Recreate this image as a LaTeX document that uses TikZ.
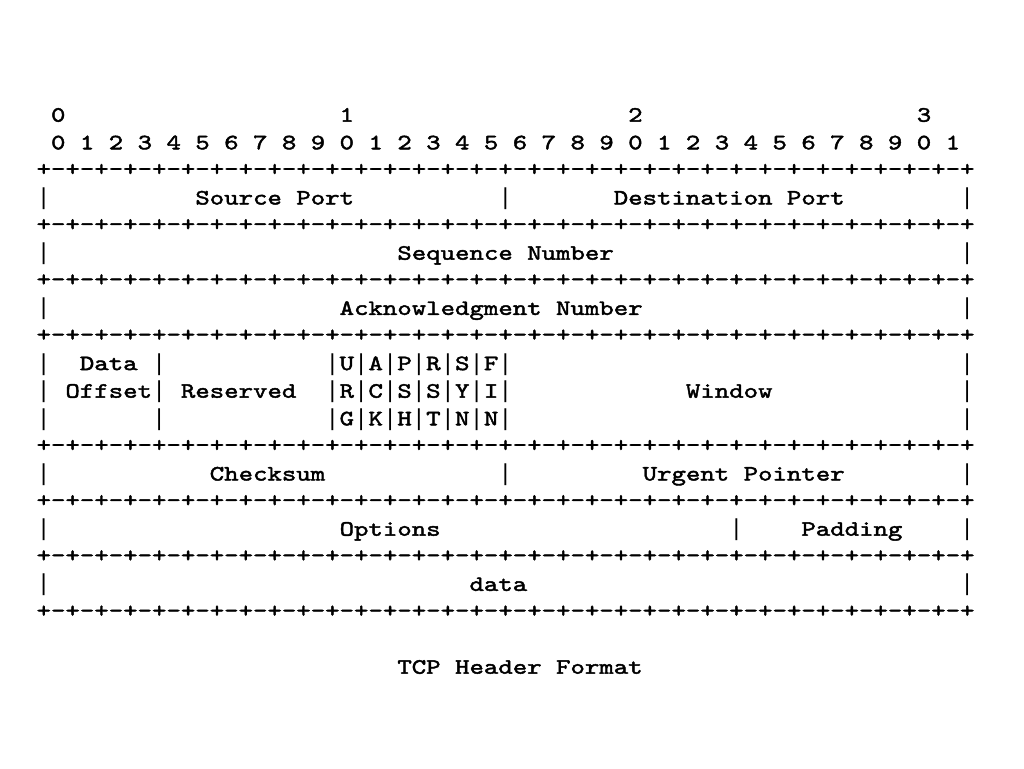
\documentclass[tikz,border=0pt]{standalone}
\usepackage{fontspec}
\newfontfamily\tcpfont{lmmono10-regular}[Extension=.otf, FakeStretch=1.255, FakeBold=2]
\newfontfamily\barfont{DejaVu Sans Mono}
\newlength\cw
\setlength\cw{14.43pt}
\newcommand\sk[1]{\hspace*{#1\cw}}
\newcommand\sq{\hspace*{\cw}}
\newcommand\vb{\makebox[\cw][c]{\barfont|}}
\newcommand\plusline{+-+-+-+-+-+-+-+-+-+-+-+-+-+-+-+-+-+-+-+-+-+-+-+-+-+-+-+-+-+-+-+-+}
\tikzset{
  row/.style={anchor=base west, inner sep=0pt, outer sep=0pt,
    font=\tcpfont\fontsize{21.9}{26}\selectfont, text=black}
}
\begin{document}
\begin{tikzpicture}[x=1pt, y=-1pt]
\fill[white] (0,0) rectangle (1024,768);
\useasboundingbox (0,0) rectangle (1024,768);
\def\xo{36.6}
% text rows: baseline = 115 + 27.6 r + 6.7 ; plus rows: + 5.5
\node[row] (r0) at (\xo, {115+27.6*0+6.7}) {\sq 0\sk{19}1\sk{19}2\sk{19}3};
\node[row] (r1) at (\xo, {115+27.6*1+6.7}) {\sq 0\sq 1\sq 2\sq 3\sq 4\sq 5\sq 6\sq 7\sq 8\sq 9\sq 0\sq 1\sq 2\sq 3\sq 4\sq 5\sq 6\sq 7\sq 8\sq 9\sq 0\sq 1\sq 2\sq 3\sq 4\sq 5\sq 6\sq 7\sq 8\sq 9\sq 0\sq 1};
\node[row] (p2) at (\xo, {115+27.6*2+5.5}) {\plusline};
\node[row] (r3) at (\xo, {115+27.6*3+6.7}) {\vb\sk{10}Source\sq Port\sk{10}\vb\sk{7}Destination\sq Port\sk{8}\vb};
\node[row] (p4) at (\xo, {115+27.6*4+5.5}) {\plusline};
\node[row] (r5) at (\xo, {115+27.6*5+6.7}) {\vb\sk{24}Sequence\sq Number\sk{24}\vb};
\node[row] (p6) at (\xo, {115+27.6*6+5.5}) {\plusline};
\node[row] (r7) at (\xo, {115+27.6*7+6.7}) {\vb\sk{20}Acknowledgment\sq Number\sk{22}\vb};
\node[row] (p8) at (\xo, {115+27.6*8+5.5}) {\plusline};
\node[row] (r9) at (\xo, {115+27.6*9+6.7}) {\vb\sk{2}Data\sq\vb\sk{11}\vb U\vb A\vb P\vb R\vb S\vb F\vb\sk{31}\vb};
\node[row] (r10) at (\xo, {115+27.6*10+6.7}) {\vb\sq Offset\vb\sq Reserved\sk{2}\vb R\vb C\vb S\vb S\vb Y\vb I\vb\sk{12}Window\sk{13}\vb};
\node[row] (r11) at (\xo, {115+27.6*11+6.7}) {\vb\sk{7}\vb\sk{11}\vb G\vb K\vb H\vb T\vb N\vb N\vb\sk{31}\vb};
\node[row] (p12) at (\xo, {115+27.6*12+5.5}) {\plusline};
\node[row] (r13) at (\xo, {115+27.6*13+6.7}) {\vb\sk{11}Checksum\sk{12}\vb\sk{9}Urgent\sq Pointer\sk{8}\vb};
\node[row] (p14) at (\xo, {115+27.6*14+5.5}) {\plusline};
\node[row] (r15) at (\xo, {115+27.6*15+6.7}) {\vb\sk{20}Options\sk{20}\vb\sk{4}Padding\sk{4}\vb};
\node[row] (p16) at (\xo, {115+27.6*16+5.5}) {\plusline};
\node[row] (r17) at (\xo, {115+27.6*17+6.7}) {\vb\sk{29}data\sk{30}\vb};
\node[row] (p18) at (\xo, {115+27.6*18+5.5}) {\plusline};
\node[row] (title) at (\xo, {115+27.6*20+6.7}) {\sk{25}TCP\sq Header\sq Format};
\end{tikzpicture}
\end{document}
